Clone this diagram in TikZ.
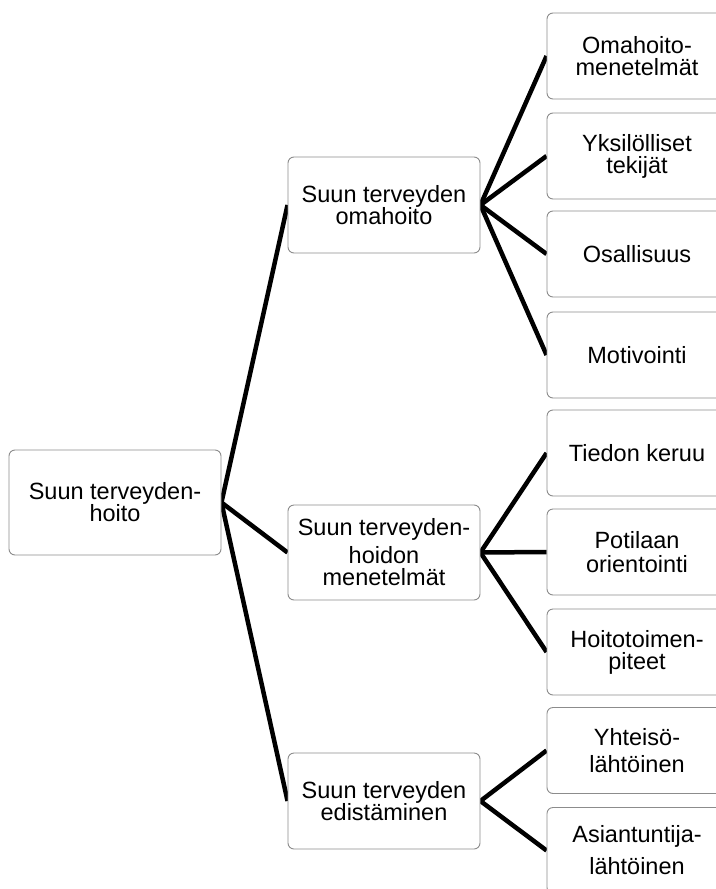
\documentclass[tikz,border=0pt]{standalone}
\usepackage{fontspec}
\setmainfont{Liberation Sans}
\usetikzlibrary{backgrounds}
\definecolor{boxline}{HTML}{8C8C8C}
\tikzset{
  box/.style={draw=boxline, line width=0.9pt, fill=white, rounded corners=6pt,
    align=center, inner sep=0pt, font=\fontsize{23.5}{22}\selectfont},
  rootbox/.style={box, minimum width=212pt, minimum height=105pt},
  midbox/.style={box, minimum width=192pt, minimum height=96pt},
  leafbox/.style={box, minimum width=180pt, minimum height=86pt},
  link/.style={black, line width=4.5pt}
}
\begin{document}
\begin{tikzpicture}[x=1pt,y=-1pt]
\useasboundingbox (0,0) rectangle (715,889);
% nodes
\node[rootbox] (root) at (115,502.5) {Suun terveyden-\\hoito};
\node[midbox] (m1) at (384,205) {Suun terveyden\\omahoito};
\node[midbox, minimum height=95pt] (m2) at (384,552.5) {Suun terveyden-\\[6pt]hoidon\\menetelmät};
\node[midbox] (m3) at (384,801) {Suun terveyden\\edistäminen};
\node[leafbox] (l1) at (637,56) {Omahoito-\\menetelmät};
\node[leafbox] (l2) at (637,156) {Yksilölliset\\tekijät};
\node[leafbox] (l3) at (637,254) {Osallisuus};
\node[leafbox] (l4) at (637,355) {Motivointi};
\node[leafbox] (l5) at (637,453) {Tiedon keruu};
\node[leafbox] (l6) at (637,552) {Potilaan\\[2pt]orientointi};
\node[leafbox] (l7) at (637,652) {Hoitotoimen-\\piteet};
\node[leafbox] (l8) at (637,750.5) {Yhteisö-\\[5pt]lähtöinen};
\node[leafbox] (l9) at (637,850.5) {Asiantuntija-\\[10pt]lähtöinen};
% connectors beneath boxes
\begin{pgfonlayer}{background}
\fill[white] (0,0) rectangle (715,889);
\draw[link] (root.east) -- (m1.west);
\draw[link] (root.east) -- (m2.west);
\draw[link] (root.east) -- (m3.west);
\foreach \t in {l1,l2,l3,l4} \draw[link] (m1.east) -- (\t.west);
\foreach \t in {l5,l6,l7} \draw[link] (m2.east) -- (\t.west);
\foreach \t in {l8,l9} \draw[link] (m3.east) -- (\t.west);
\end{pgfonlayer}
\end{tikzpicture}
\end{document}
